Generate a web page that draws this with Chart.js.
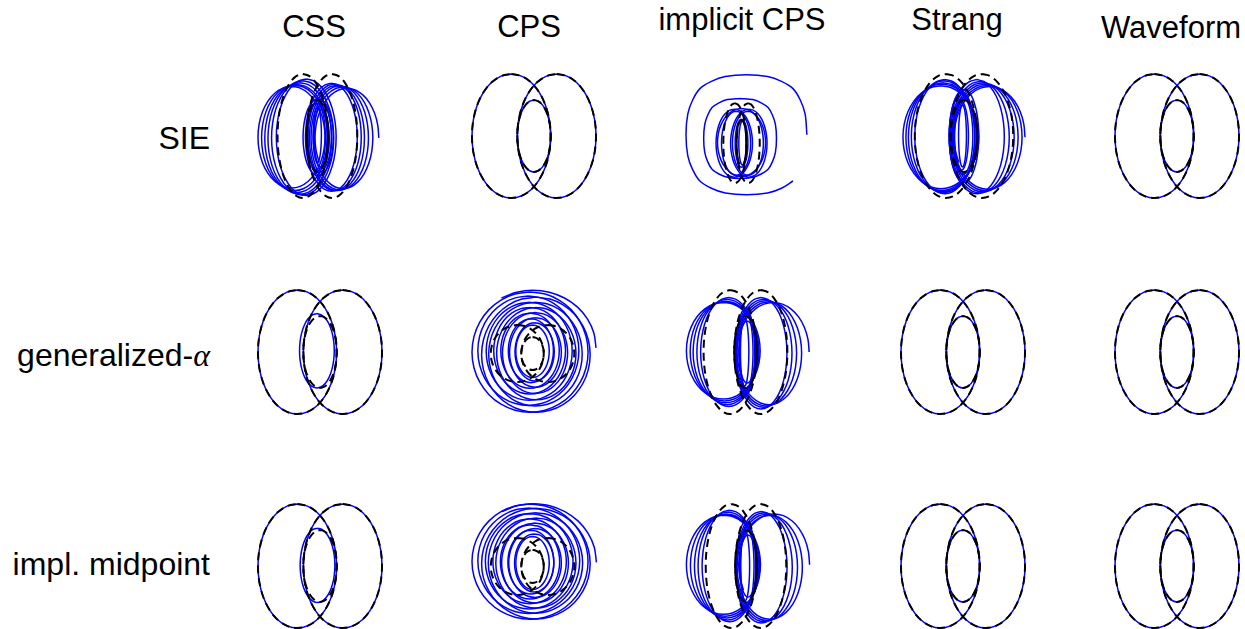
<!DOCTYPE html>
<html>
<head>
<meta charset="utf-8">
<script src="https://cdn.jsdelivr.net/npm/chart.js@4.4.0/dist/chart.umd.min.js"></script>
<style>
  html, body { margin: 0; padding: 0; background: #fff; }
  body { width: 1245px; height: 629px; position: relative; overflow: hidden;
         font-family: "Liberation Sans", Arial, Helvetica, sans-serif; }
  .txt { position: absolute; font-size: 31px; line-height: 31px; white-space: nowrap; color: #000; }
  .row { font-size: 32px; }
  .alpha { font-family: "Liberation Serif", "DejaVu Serif", serif; font-style: italic; }
  canvas.panel { position: absolute; }
</style>
</head>
<body>
<script>
// ---- labels ----
const methods = ['CSS', 'CPS', 'implicit CPS', 'Strang', 'Waveform'];
const integrators = ['SIE', 'generalized-α', 'impl. midpoint'];

// ---- loop templates: 24 points, starting at the top, going clockwise ----
const ringShape = [
  [0, 1], [0.259, 0.966], [0.5, 0.866], [0.707, 0.707], [0.866, 0.5], [0.966, 0.259],
  [1, 0], [0.966, -0.259], [0.866, -0.5], [0.707, -0.707], [0.5, -0.866], [0.259, -0.966],
  [0, -1], [-0.259, -0.966], [-0.5, -0.866], [-0.707, -0.707], [-0.866, -0.5], [-0.966, -0.259],
  [-1, 0], [-0.966, 0.259], [-0.866, 0.5], [-0.707, 0.707], [-0.5, 0.866], [-0.259, 0.966]
];
const boxShape = [
  [0, 1], [0.35, 0.97], [0.58, 0.89], [0.77, 0.77], [0.89, 0.58], [0.97, 0.35],
  [1, 0], [0.97, -0.35], [0.89, -0.58], [0.77, -0.77], [0.58, -0.89], [0.35, -0.97],
  [0, -1], [-0.35, -0.97], [-0.58, -0.89], [-0.77, -0.77], [-0.89, -0.58], [-0.97, -0.35],
  [-1, 0], [-0.97, 0.35], [-0.89, 0.58], [-0.77, 0.77], [-0.58, 0.89], [-0.35, 0.97]
];

// ---- orbit loops: [cx, cy, rx, ry, fromIndex, toIndex, shape] ----
// exact orbit: left lobe, right lobe, inner lobe
const exactOrbit = [[-0.366, 0, 0.634, 1.0], [0.366, 0, 0.634, 1.0], [0, 0, 0.27, 0.58]];

const orbitSieCss = [
  [-0.65, -0.02, 0.84, 0.82], [-0.57, -0.03, 0.83, 0.85], [-0.51, -0.04, 0.81, 0.87],
  [-0.44, -0.04, 0.80, 0.90], [-0.37, -0.03, 0.78, 0.92], [-0.28, -0.02, 0.75, 0.94],
  [0.35, -0.02, 0.65, 0.87], [0.43, -0.02, 0.67, 0.86], [0.49, -0.03, 0.69, 0.85],
  [0.56, -0.03, 0.72, 0.84], [0.64, -0.03, 0.75, 0.82], [0.74, -0.03, 0.80, 0.80, 16, 6],
  [0.02, -0.02, 0.38, 0.62], [0.05, 0, 0.30, 0.58], [-0.02, -0.02, 0.22, 0.55],
  [0.08, 0, 0.16, 0.50], [0, 0.02, 0.10, 0.45]
];
const orbitSieImplicitCps = [
  [0.27, 0.21, 3.32, 1.50, 9, 6, 'box'], [-0.08, 0.12, 2.0, 1.0, 0, 24, 'box'],
  [0, 0.02, 1.32, 0.85],
  [-0.4, 0, 1.0, 0.85], [0.4, 0, 1.0, 0.85], [-0.3, 0, 0.8, 0.8], [0.35, 0, 0.85, 0.8],
  [0, 0, 0.35, 0.6], [0.05, 0, 0.2, 0.55]
];
const orbitSieStrang = [
  [-0.47, -0.02, 0.77, 0.83], [-0.45, -0.02, 0.73, 0.86], [-0.43, -0.02, 0.70, 0.88],
  [-0.41, -0.01, 0.66, 0.90], [-0.39, -0.01, 0.61, 0.92],
  [0.26, -0.01, 0.56, 0.92], [0.32, -0.02, 0.60, 0.90], [0.38, -0.02, 0.64, 0.88],
  [0.43, -0.02, 0.67, 0.86], [0.48, -0.02, 0.70, 0.84], [0.52, -0.02, 0.72, 0.82, 16, 6],
  [-0.04, 0, 0.26, 0.70], [-0.02, 0, 0.20, 0.62], [-0.05, 0, 0.14, 0.55],
  [-0.03, 0, 0.08, 0.50], [0, 0, 0.30, 0.75]
];
const orbitGenCss = [[-0.366, 0, 0.634, 1.0], [0.366, 0, 0.634, 1.0], [-0.05, 0.02, 0.28, 0.60]];
const orbitGenCps = [
  [0.01, 0.2, 1.51, 2.02, 22, 6],
  [-0.06, 0.05, 1.39, 2.11], [0.08, -0.04, 1.30, 2.02], [-0.10, 0.10, 1.21, 1.92],
  [0.07, -0.02, 1.12, 1.82], [-0.08, 0.08, 1.03, 1.72], [0.09, 0, 0.95, 1.62],
  [-0.07, 0.10, 0.86, 1.52], [0.06, 0.02, 0.78, 1.42], [-0.06, 0.10, 0.70, 1.32],
  [0.07, 0.04, 0.62, 1.22], [-0.04, 0.10, 0.54, 1.12], [0.05, 0.06, 0.47, 1.02],
  [0, 0.08, 0.40, 0.92]
];
const orbitGenImplicitCps = [
  [-0.53, 0.02, 0.88, 0.78], [-0.50, 0.01, 0.82, 0.80], [-0.47, 0, 0.78, 0.82],
  [-0.44, 0, 0.72, 0.85], [-0.40, 0, 0.67, 0.88],
  [0.37, -0.02, 0.62, 0.90], [0.43, -0.02, 0.68, 0.87], [0.49, -0.02, 0.73, 0.85],
  [0.56, -0.02, 0.78, 0.83], [0.66, 0.0, 0.86, 0.80, 16, 6],
  [0, 0, 0.22, 0.70], [0.02, 0, 0.16, 0.62], [-0.02, 0, 0.10, 0.55], [0.04, 0, 0.20, 0.50]
];
const orbitMidCss = [[-0.366, 0, 0.634, 1.0], [0.366, 0, 0.634, 1.0], [-0.04, 0.01, 0.28, 0.60]];
const orbitMidCps = [
  [0.02, 0.14, 1.51, 2.06, 22, 6],
  [-0.06, 0.17, 1.39, 2.02], [0.08, 0.10, 1.30, 1.94], [-0.09, 0.20, 1.22, 1.85],
  [0.07, 0.12, 1.13, 1.76], [-0.08, 0.18, 1.05, 1.67], [0.08, 0.12, 0.96, 1.58],
  [-0.07, 0.18, 0.88, 1.49], [0.06, 0.12, 0.80, 1.40], [-0.06, 0.16, 0.71, 1.30],
  [0.06, 0.12, 0.63, 1.21], [-0.04, 0.15, 0.55, 1.12], [0.04, 0.12, 0.47, 1.02],
  [0, 0.12, 0.40, 0.93]
];
const orbitMidImplicitCps = [
  [-0.56, 0.02, 0.92, 0.80], [-0.52, 0.01, 0.86, 0.82], [-0.48, 0, 0.80, 0.84],
  [-0.45, 0, 0.74, 0.87], [-0.41, 0, 0.68, 0.90],
  [0.38, -0.02, 0.64, 0.90], [0.45, -0.02, 0.70, 0.88], [0.52, -0.02, 0.76, 0.86],
  [0.59, -0.02, 0.81, 0.84], [0.70, 0.02, 0.88, 0.82, 16, 6],
  [0, 0, 0.24, 0.72], [0.03, 0, 0.17, 0.64], [-0.02, 0, 0.11, 0.56], [0.05, 0, 0.21, 0.50]
];

// rows: integrators, columns: methods
const computedOrbits = [
  [orbitSieCss, exactOrbit, orbitSieImplicitCps, orbitSieStrang, exactOrbit],
  [orbitGenCss, orbitGenCps, orbitGenImplicitCps, exactOrbit, exactOrbit],
  [orbitMidCss, orbitMidCps, orbitMidImplicitCps, exactOrbit, exactOrbit]
];
const xRanges = [
  [[-1.49, 1.62], [-1, 1], [-3.05, 3.76], [-1.28, 1.24], [-1, 1]],
  [[-1, 1], [-1.45, 1.52], [-1.42, 1.54], [-1, 1], [-1, 1]],
  [[-1, 1], [-1.45, 1.52], [-1.49, 1.59], [-1, 1], [-1, 1]]
];
const yRanges = [
  [[-1, 1], [-1, 1], [-1.37, 1.73], [-1, 1], [-1, 1]],
  [[-1, 1], [-2.12, 2.23], [-1, 1], [-1, 1], [-1, 1]],
  [[-1, 1], [-2.16, 2.19], [-1, 1], [-1, 1], [-1, 1]]
];

// ---- layout ----
const colLeft = [258, 472, 686, 901, 1115];
const rowTop = [74, 290, 504];
const BOX = 124, PAD = 4;
const titleX = [314, 529, 742, 957, 1171];
const titleBase = [37, 37, 30, 30, 38];
const labelBase = [150, 367, 576];
const labelRight = 210;

function loopPoints([cx, cy, rx, ry, from = 0, to = 24, shape = 'ring']) {
  const tpl = shape === 'box' ? boxShape : ringShape;
  const n = tpl.length;
  let end = to;
  if (end <= from) end += n;
  const pts = [];
  for (let k = from; k <= end; k++) {
    const [u, v] = tpl[k % n];
    pts.push({ x: cx + rx * u, y: cy + ry * v });
  }
  return pts;
}

function lineSet(loop, exact) {
  return {
    data: loopPoints(loop),
    fill: false,
    pointRadius: 0,
    tension: 0.34,
    clip: PAD,
    borderColor: exact ? '#000000' : '#0000ff',
    borderWidth: exact ? 2 : 1.5,
    borderDash: exact ? [8, 5] : [],
    borderJoinStyle: 'round',
    order: exact ? 0 : 1
  };
}

// column titles
methods.forEach((m, c) => {
  const d = document.createElement('div');
  d.className = 'txt';
  d.textContent = m;
  d.style.left = (titleX[c] - 150) + 'px';
  d.style.width = '300px';
  d.style.textAlign = 'center';
  d.style.top = (titleBase[c] - 26) + 'px';
  document.body.appendChild(d);
});

// row labels
integrators.forEach((name, r) => {
  const d = document.createElement('div');
  d.className = 'txt row';
  d.style.left = '0px';
  d.style.width = labelRight + 'px';
  d.style.textAlign = 'right';
  d.style.top = (labelBase[r] - 27) + 'px';
  if (name.endsWith('α')) {
    d.appendChild(document.createTextNode(name.slice(0, -1)));
    const a = document.createElement('span');
    a.className = 'alpha';
    a.textContent = 'α';
    d.appendChild(a);
  } else {
    d.textContent = name;
  }
  document.body.appendChild(d);
});

// orbit panels
computedOrbits.forEach((row, r) => {
  row.forEach((orbit, c) => {
    const cv = document.createElement('canvas');
    cv.className = 'panel';
    cv.width = BOX + 2 * PAD;
    cv.height = BOX + 2 * PAD;
    cv.style.left = (colLeft[c] - PAD) + 'px';
    cv.style.top = (rowTop[r] - PAD) + 'px';
    document.body.appendChild(cv);

    const datasets = [
      ...exactOrbit.map(l => lineSet(l, true)),
      ...orbit.map(l => lineSet(l, false))
    ];
    new Chart(cv, {
      type: 'line',
      data: { datasets },
      options: {
        responsive: false,
        animation: false,
        devicePixelRatio: 1,
        events: [],
        layout: { padding: PAD },
        plugins: { legend: { display: false }, tooltip: { enabled: false } },
        scales: {
          x: { type: 'linear', min: xRanges[r][c][0], max: xRanges[r][c][1], display: false },
          y: { type: 'linear', min: yRanges[r][c][0], max: yRanges[r][c][1], display: false }
        }
      }
    });
  });
});
</script>
</body>
</html>
